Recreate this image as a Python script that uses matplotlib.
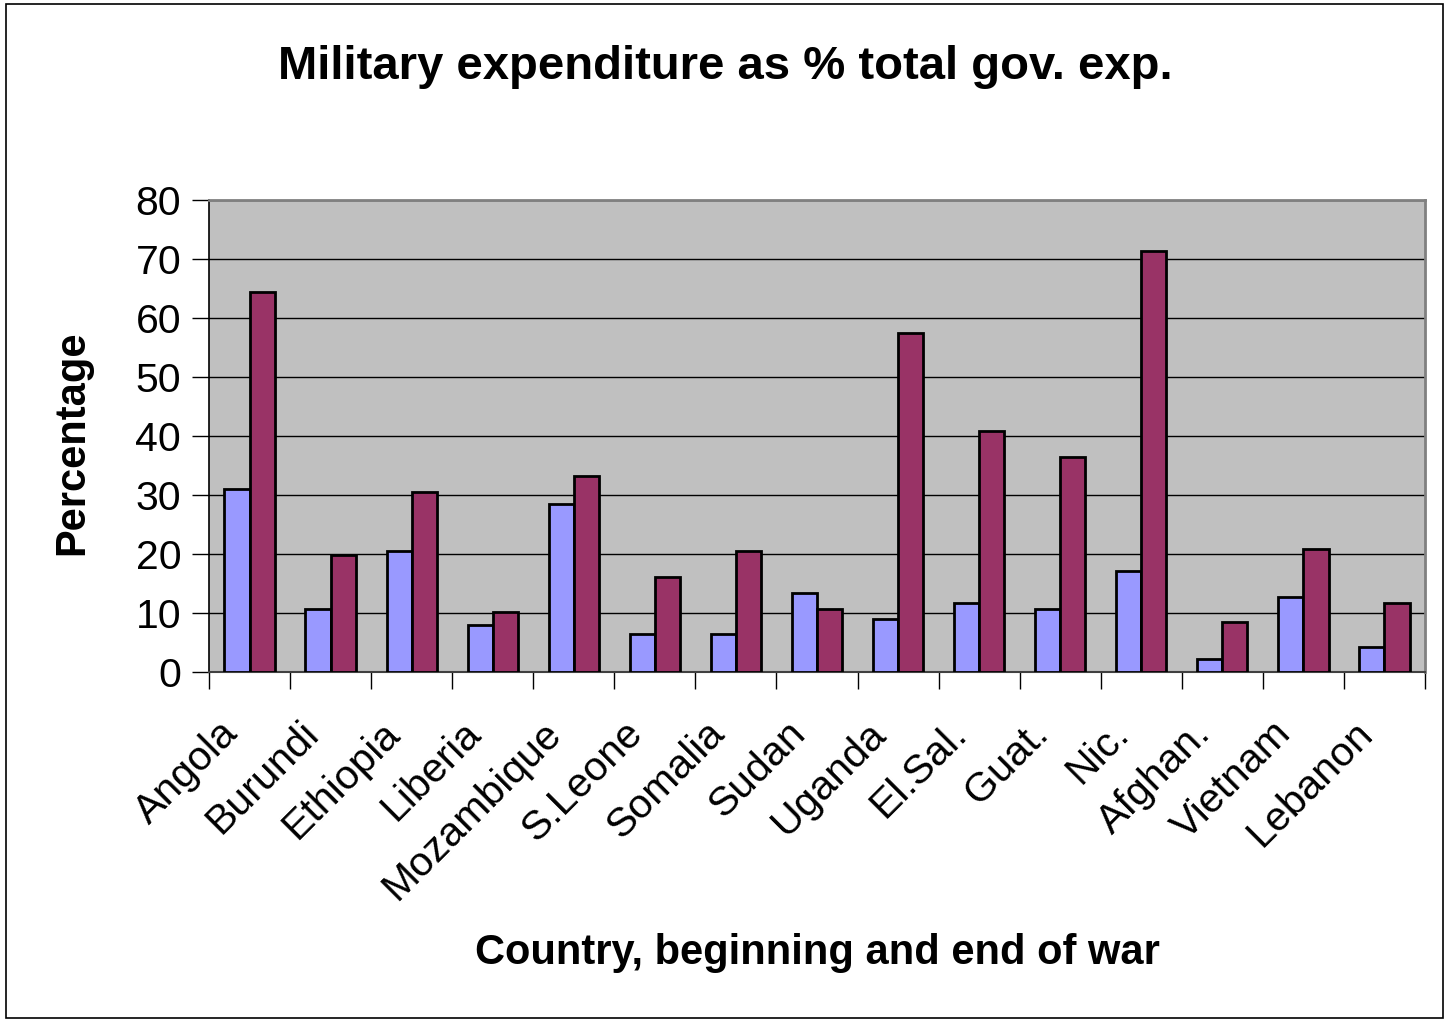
import matplotlib.pyplot as plt
import numpy as np
from matplotlib.patches import Rectangle
from matplotlib.transforms import ScaledTranslation

# Values
countries = ['Angola', 'Burundi', 'Ethiopia', 'Liberia', 'Mozambique',
             'S.Leone', 'Somalia', 'Sudan', 'Uganda', 'El.Sal.', 'Guat.',
             'Nic.', 'Afghan.', 'Vietnam', 'Lebanon']
war_begin = [31.0, 10.7, 20.5, 8.0, 28.5, 6.4, 6.4, 13.4, 9.0, 11.7, 10.7,
             17.1, 2.2, 12.7, 4.2]
war_end = [64.4, 19.8, 30.5, 10.2, 33.2, 16.1, 20.5, 10.7, 57.5, 40.8, 36.4,
           71.4, 8.5, 20.8, 11.7]
y_ticks = [0, 10, 20, 30, 40, 50, 60, 70, 80]

plt.rcParams['font.family'] = ['Liberation Sans', 'DejaVu Sans']

fig = plt.figure(figsize=(14.51, 10.21), dpi=100)
fig.patches.append(Rectangle((6 / 1451, 3 / 1021), 1437 / 1451, 1014 / 1021,
                             transform=fig.transFigure, fill=False,
                             edgecolor='black', linewidth=1.2))

ax = fig.add_axes([209 / 1451, 1 - 672 / 1021, 1216 / 1451, 472 / 1021])
ax.set_facecolor('#C0C0C0')

x = np.arange(len(countries))
width = 0.31
ax.bar(x - width / 2, war_begin, width, color='#9999FF', edgecolor='black',
       linewidth=2, zorder=3)
ax.bar(x + width / 2, war_end, width, color='#993366', edgecolor='black',
       linewidth=2, zorder=3)

ax.set_xlim(-0.5, len(countries) - 0.5)
ax.set_ylim(0, 80)
ax.set_yticks(y_ticks)
ax.yaxis.grid(True, color='black', linewidth=1)
ax.set_axisbelow(True)
ax.tick_params(axis='y', labelsize=29.5, length=12, width=1, pad=8)

# Category ticks sit between groups, labels at group centres
ax.set_xticks(np.arange(len(countries) + 1) - 0.5)
ax.set_xticklabels([])
ax.set_xticks(x, minor=True)
ax.set_xticklabels(countries, minor=True, rotation=45, ha='right',
                   va='center', rotation_mode='anchor', fontsize=29.5)
ax.tick_params(axis='x', which='major', length=12, width=1)
ax.tick_params(axis='x', which='minor', length=0, pad=40)
shift = ScaledTranslation(-13 / 72, 0, fig.dpi_scale_trans)
for label in ax.get_xticklabels(minor=True):
    label.set_transform(label.get_transform() + shift)

for side in ['top', 'right']:
    ax.spines[side].set_color('#808080')
    ax.spines[side].set_linewidth(2)
ax.spines['left'].set_linewidth(1.2)
ax.spines['bottom'].set_color('#404040')
ax.spines['bottom'].set_linewidth(1.5)

fig.text(0.5, 1 - 67 / 1021, 'Military expenditure as % total gov. exp.',
         ha='center', va='center', fontsize=34, fontweight='bold')
fig.text(817 / 1451, 1 - 953 / 1021, 'Country, beginning and end of war',
         ha='center', va='center', fontsize=30, fontweight='bold')
fig.text(72 / 1451, 1 - 443 / 1021, 'Percentage', rotation=90,
         ha='center', va='center', fontsize=30, fontweight='bold')

fig.savefig('out.png', dpi=100)
